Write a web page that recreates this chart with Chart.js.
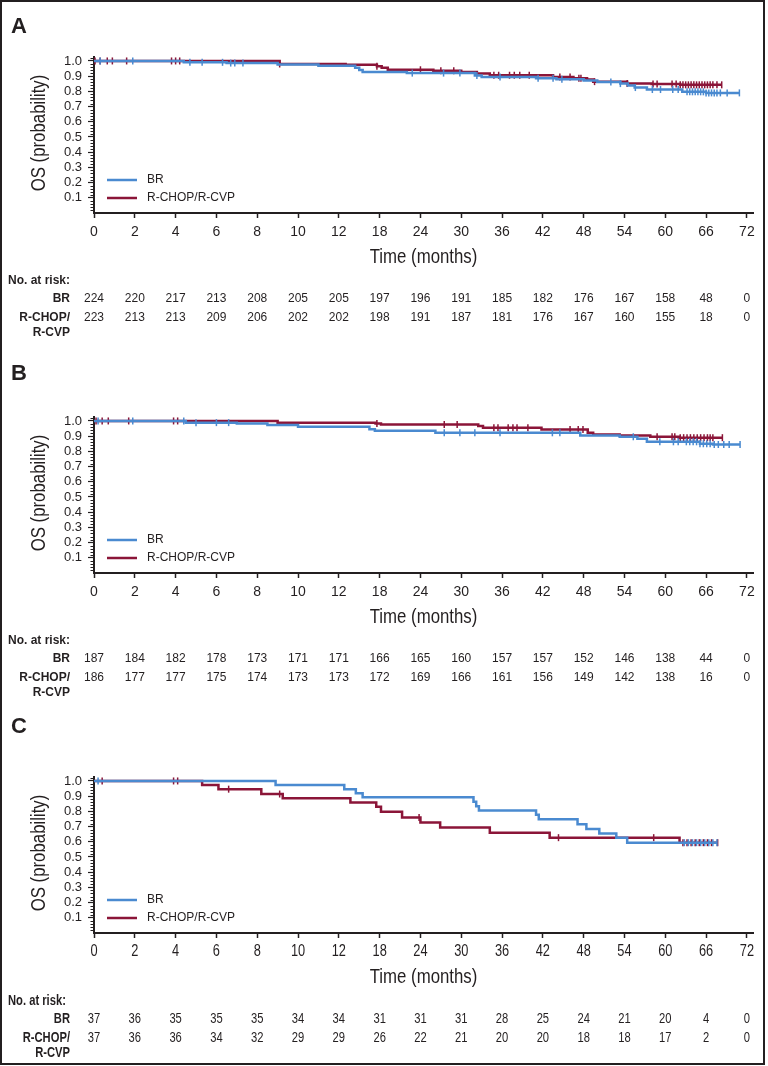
<!DOCTYPE html>
<html>
<head>
<meta charset="utf-8">
<script src="https://cdn.jsdelivr.net/npm/chart.js@4.4.1/dist/chart.umd.min.js"></script>
<style>
  html, body { margin: 0; padding: 0; background: #fff; overflow: hidden; }
  #frame { position: absolute; left: 0; top: 0; width: 765px; height: 1065px; box-sizing: border-box; border: 2px solid #231f20; }
  .panel { position: absolute; left: 0; width: 768px; height: 346px; }
  .tag { position: absolute; left: 11px; font: bold 22px "Liberation Sans", Arial, sans-serif; line-height: 1; color: #231f20; }
</style>
</head>
<body>
<div id="frame"></div>
<div class="panel" style="top:0px"><canvas id="chartA"></canvas></div>
<div class="panel" style="top:360px"><canvas id="chartB"></canvas></div>
<div class="panel" style="top:720px"><canvas id="chartC"></canvas></div>
<div class="tag" style="top:15px">A</div>
<div class="tag" style="top:362px">B</div>
<div class="tag" style="top:715px">C</div>
<script>
// x axis is drawn at equal spacing for these (non-uniform) month labels
const tickLabels = ['0', '2', '4', '6', '8', '10', '12', '18', '24', '30', '36', '42', '48', '54', '60', '66', '72'];
const yTickValues = [0.1, 0.2, 0.3, 0.4, 0.5, 0.6, 0.7, 0.8, 0.9, 1.0];
const seriesNames = ['BR', 'R-CHOP/R-CVP'];
const riskRowLabels = [['BR'], ['R-CHOP/', 'R-CVP']];

// Panel A
const aBrTimes = [4.4, 6.5, 9.0, 11.0, 14.4, 15.0, 15.5, 22.0, 32.0, 33.0, 41.0, 44.0, 48.0, 50.0, 53.4, 54.5, 55.5, 57.3, 62.5, 66.0];
const aBrSurv = [0.991, 0.986, 0.977, 0.968, 0.955, 0.941, 0.928, 0.92, 0.905, 0.895, 0.886, 0.88, 0.872, 0.862, 0.851, 0.838, 0.825, 0.812, 0.797, 0.79];
const aBrCens = [0.3, 1.9, 4.7, 5.3, 6.3, 6.7, 6.9, 7.3, 22.8, 27.4, 29.8, 32.3, 35.7, 41.3, 43.5, 44.8, 52.0, 53.4, 55.6, 58.1, 59.3, 61.1, 61.9, 63.2, 63.6, 64.0, 64.4, 64.8, 65.2, 65.6, 66.0, 66.4, 66.8, 67.2, 67.6, 68.1, 69.1, 70.9];
const aRcTimes = [9.1, 13.0, 17.6, 18.3, 19.2, 25.9, 30.0, 32.3, 34.2, 43.5, 46.5, 48.5, 49.4, 54.4, 58.0, 62.2];
const aRcSurv = [0.98, 0.975, 0.965, 0.955, 0.942, 0.935, 0.928, 0.918, 0.906, 0.895, 0.887, 0.878, 0.864, 0.852, 0.848, 0.843];
const aRcCens = [0.05, 0.3, 0.65, 0.9, 1.6, 3.8, 4.0, 4.2, 9.1, 17.6, 24.0, 27.0, 28.9, 34.8, 35.5, 37.1, 37.8, 38.6, 40.0, 44.5, 46.0, 47.3, 47.6, 49.6, 54.4, 58.2, 58.8, 61.0, 61.6, 62.2, 62.6, 63.0, 63.4, 63.8, 64.2, 64.6, 65.0, 65.4, 65.8, 66.2, 66.6, 67.0, 67.6, 68.3];
const aBrRisk = [224, 220, 217, 213, 208, 205, 205, 197, 196, 191, 185, 182, 176, 167, 158, 48, 0];
const aRcRisk = [223, 213, 213, 209, 206, 202, 202, 198, 191, 187, 181, 176, 167, 160, 155, 18, 0];

// Panel B
const bBrTimes = [4.5, 7.0, 8.5, 10.0, 16.5, 17.3, 26.2, 47.5, 53.3, 55.9, 57.3, 65.1, 67.0];
const bBrSurv = [0.989, 0.984, 0.973, 0.962, 0.946, 0.935, 0.922, 0.905, 0.896, 0.883, 0.863, 0.85, 0.845];
const bBrCens = [0.2, 1.9, 4.4, 5.0, 6.0, 6.6, 27.5, 29.8, 32.0, 35.7, 43.4, 44.5, 55.3, 59.2, 61.2, 61.9, 63.1, 63.6, 64.1, 64.6, 65.1, 65.6, 66.1, 66.6, 67.2, 67.8, 68.6, 69.4, 71.0];
const bRcTimes = [9.0, 17.4, 18.2, 32.5, 33.2, 41.8, 48.6, 49.4, 53.3, 57.8, 62.0];
const bRcSurv = [0.989, 0.983, 0.977, 0.966, 0.955, 0.944, 0.922, 0.911, 0.905, 0.896, 0.89];
const bRcCens = [0.1, 0.4, 0.7, 1.7, 3.9, 4.1, 17.6, 27.5, 29.4, 34.8, 35.4, 36.9, 37.6, 38.2, 39.8, 46.0, 47.2, 47.9, 58.8, 61.0, 61.4, 62.2, 62.7, 63.2, 63.7, 64.2, 64.7, 65.2, 65.7, 66.2, 66.6, 67.0, 68.4];
const bBrRisk = [187, 184, 182, 178, 173, 171, 171, 166, 165, 160, 157, 157, 152, 146, 138, 44, 0];
const bRcRisk = [186, 177, 177, 175, 174, 173, 173, 172, 169, 166, 161, 156, 149, 142, 138, 16, 0];

// Panel C
const cBrTimes = [8.9, 12.8, 14.5, 15.5, 31.8, 32.2, 32.6, 41.0, 41.4, 47.1, 48.4, 50.3, 52.8, 54.4];
const cBrSurv = [0.973, 0.946, 0.919, 0.892, 0.863, 0.834, 0.806, 0.777, 0.748, 0.716, 0.684, 0.655, 0.626, 0.594];
const cBrCens = [0.2, 62.8, 63.4, 64.0, 64.6, 65.2, 65.8, 66.4, 67.0, 67.6];
const cRcTimes = [5.3, 6.1, 8.2, 9.25, 13.7, 17.5, 18.2, 21.3, 24.0, 26.9, 34.2, 43.0, 62.1];
const cRcSurv = [0.973, 0.946, 0.914, 0.887, 0.859, 0.83, 0.798, 0.76, 0.727, 0.694, 0.66, 0.627, 0.594];
const cRcCens = [0.4, 3.9, 4.1, 6.6, 9.1, 23.8, 44.3, 58.3, 62.6, 63.2, 63.8, 64.4, 65.0, 65.6, 66.2, 66.8, 67.7];
const cBrRisk = [37, 36, 35, 35, 35, 34, 34, 31, 31, 31, 28, 25, 24, 21, 20, 4, 0];
const cRcRisk = [37, 36, 36, 34, 32, 29, 29, 26, 22, 21, 20, 20, 18, 18, 17, 2, 0];

const ink = '#231f20';
const colors = ['#4a8ad0', '#8b1538'];
const regular = '"Liberation Sans", Arial, Helvetica, sans-serif';

// months -> axis position (one unit per tick label)
const toPos = t => t <= 12 ? t / 2 : 6 + (t - 12) / 6;

function kmPoints(times, surv, cens) {
  const pts = [{x: 0, y: 1, c: false}];
  times.forEach((t, i) => pts.push({x: t, y: surv[i], c: false}));
  cens.forEach(t => {
    let s = 1;
    times.forEach((et, i) => { if (et <= t) s = surv[i]; });
    pts.push({x: t, y: s, c: true});
  });
  pts.sort((a, b) => a.x - b.x || (a.c - b.c));
  return pts.map(p => ({x: toPos(p.x), y: p.y, c: p.c}));
}

// condensed text: no narrow face is installed, so squeeze Liberation Sans
function squeezed(ctx, txt, x, y, size, bold, align, rot) {
  ctx.save();
  ctx.translate(x, y);
  if (rot) ctx.rotate(rot);
  ctx.scale(0.8, 1);
  ctx.font = (bold ? 'bold ' : '') + size + 'px ' + regular;
  ctx.textAlign = align;
  ctx.textBaseline = 'middle';
  ctx.fillStyle = ink;
  ctx.fillText(txt, 0, 0);
  ctx.restore();
}

const kmDecor = {
  id: 'kmDecor',
  afterDraw(chart, args, o) {
    const {ctx, chartArea: ca, scales: {x, y}} = chart;
    ctx.save();
    // minor ticks on the y axis
    ctx.strokeStyle = ink;
    ctx.lineWidth = 1;
    for (let k = 1; k <= 51; k++) {
      if (k % 5 === 0) continue;
      const py = Math.round(y.getPixelForValue(k / 50)) + 0.5;
      ctx.beginPath();
      ctx.moveTo(ca.left - 3.5, py);
      ctx.lineTo(ca.left, py);
      ctx.stroke();
    }
    // axis titles
    squeezed(ctx, 'Time (months)', (x.left + x.right) / 2, 257, 21, false, 'center');
    squeezed(ctx, 'OS (probability)', 39, (ca.top + ca.bottom) / 2 - 2, 21, false, 'center', -Math.PI / 2);
    // tick labels for the condensed panel
    if (o.narrow) {
      tickLabels.forEach((t, i) => squeezed(ctx, t, x.getPixelForValue(i), 232, 16, false, 'center'));
    }
    // legend inside the plot
    ctx.font = '12px ' + regular;
    ctx.textBaseline = 'middle';
    ctx.textAlign = 'left';
    chart.data.datasets.forEach((ds, i) => {
      const ly = ca.bottom - 33 + i * 18;
      ctx.strokeStyle = ds.borderColor;
      ctx.lineWidth = 2.5;
      ctx.beginPath();
      ctx.moveTo(ca.left + 13, ly);
      ctx.lineTo(ca.left + 43, ly);
      ctx.stroke();
      ctx.fillStyle = ink;
      ctx.fillText(ds.label, ca.left + 53, ly);
    });
    // number at risk table
    const rowY = [[299], [318, 333]];
    if (o.narrow) {
      squeezed(ctx, 'No. at risk:', 8, 281, 14, true, 'left');
      riskRowLabels.forEach((lines, r) => lines.forEach((txt, j) => squeezed(ctx, txt, 70, rowY[r][j], 14, true, 'right')));
      o.rows.forEach((row, r) => row.forEach((v, j) => squeezed(ctx, String(v), x.getPixelForValue(j), rowY[r][0], 14, false, 'center')));
    } else {
      ctx.fillStyle = ink;
      ctx.font = 'bold 12px ' + regular;
      ctx.textAlign = 'left';
      ctx.fillText('No. at risk:', 8, 281);
      ctx.textAlign = 'right';
      riskRowLabels.forEach((lines, r) => lines.forEach((txt, j) => ctx.fillText(txt, 70, rowY[r][j])));
      ctx.font = '12px ' + regular;
      ctx.textAlign = 'center';
      o.rows.forEach((row, r) => row.forEach((v, j) => ctx.fillText(String(v), x.getPixelForValue(j), rowY[r][0])));
    }
    ctx.restore();
  }
};

function buildPanel(id, curves, rows, narrowTicks) {
  const datasets = curves.map((c, i) => ({
    label: seriesNames[i],
    data: kmPoints(c[0], c[1], c[2]),
    borderColor: colors[i],
    backgroundColor: colors[i],
    borderWidth: 2.5,
    stepped: true,
    fill: false,
    pointStyle: 'line',
    rotation: 90,
    pointRadius: ctx => (ctx.raw && ctx.raw.c) ? 3.5 : 0,
    pointBorderWidth: 1.5,
    pointBorderColor: colors[i],
    pointHoverRadius: 0
  }));
  return new Chart(document.getElementById(id), {
    type: 'line',
    data: {datasets},
    plugins: [kmDecor],
    options: {
      responsive: true,
      maintainAspectRatio: false,
      animation: false,
      events: [],
      layout: {padding: {top: 57, right: 15, bottom: 76.4, left: 0}},
      plugins: {
        legend: {display: false},
        tooltip: {enabled: false},
        kmDecor: {rows, narrow: narrowTicks}
      },
      scales: {
        x: {
          type: 'linear',
          min: 0,
          max: toPos(72.9),
          afterBuildTicks: s => { s.ticks = tickLabels.map((_, i) => ({value: i})); },
          afterFit: s => { s.height = 56.6; },
          ticks: {
            display: !narrowTicks,
            autoSkip: false,
            maxRotation: 0,
            padding: 6,
            color: ink,
            font: {family: regular, size: 14},
            callback: (v, i) => tickLabels[i]
          },
          grid: {drawOnChartArea: false, drawTicks: true, tickLength: 5, tickColor: ink, tickWidth: 1.5},
          border: {color: ink, width: 2}
        },
        y: {
          type: 'linear',
          min: 0,
          max: 1.026,
          afterBuildTicks: s => { s.ticks = yTickValues.map(v => ({value: v})); },
          afterFit: s => { s.width = 94; },
          ticks: {
            autoSkip: false,
            padding: 6,
            color: ink,
            font: {family: regular, size: 13},
            callback: v => Number(v).toFixed(1)
          },
          grid: {drawOnChartArea: false, drawTicks: true, tickLength: 6, tickColor: ink, tickWidth: 1.2},
          border: {color: ink, width: 2}
        }
      }
    }
  });
}

buildPanel('chartA', [[aBrTimes, aBrSurv, aBrCens], [aRcTimes, aRcSurv, aRcCens]], [aBrRisk, aRcRisk], false);
buildPanel('chartB', [[bBrTimes, bBrSurv, bBrCens], [bRcTimes, bRcSurv, bRcCens]], [bBrRisk, bRcRisk], false);
buildPanel('chartC', [[cBrTimes, cBrSurv, cBrCens], [cRcTimes, cRcSurv, cRcCens]], [cBrRisk, cRcRisk], true);
</script>
</body>
</html>
